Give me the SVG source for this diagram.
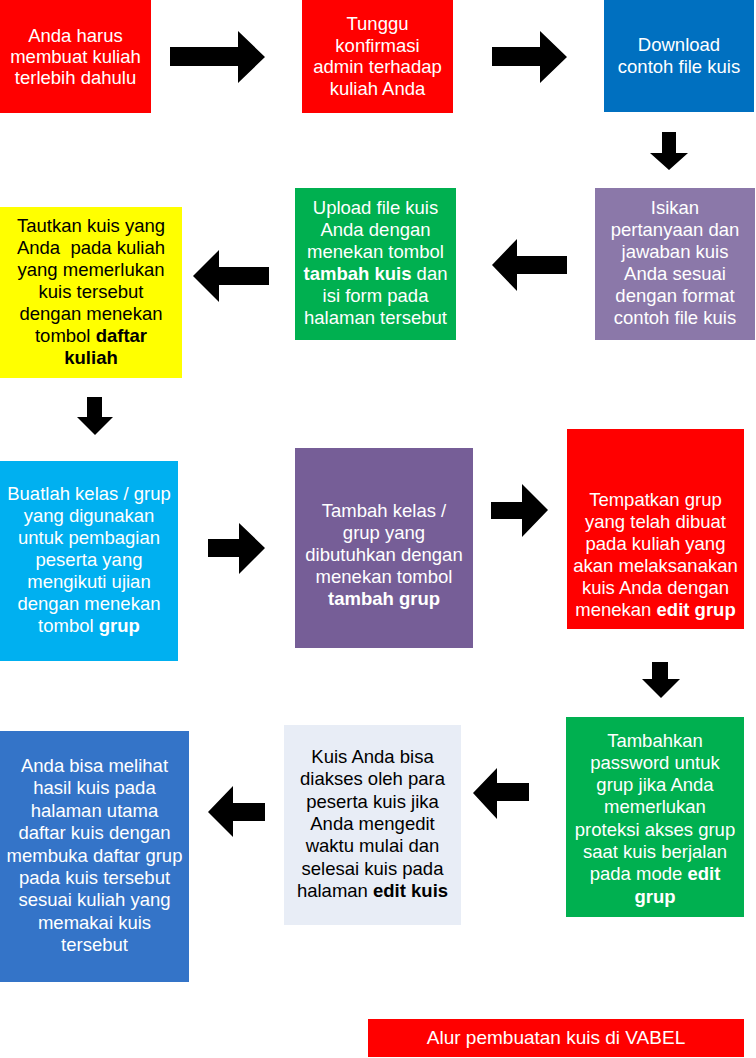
<svg xmlns="http://www.w3.org/2000/svg" width="756" height="1058" viewBox="0 0 756 1058">
<style>
  text { font-family: "Liberation Sans", Arial, sans-serif; font-size: 18.5px; text-anchor: middle; white-space: pre; }
  .w { fill: #ffffff; }
  .k { fill: #000000; }
  .b { font-weight: bold; }
  .arrow { fill: #000000; }
</style>
<rect x="0" y="0" width="756" height="1058" fill="#ffffff"/>

<g id="n1">
  <rect x="0" y="0" width="151" height="113" fill="#ff0000"/>
  <text class="w"><tspan x="75.5" y="41.5">Anda harus</tspan><tspan x="75.5" y="62.5">membuat kuliah</tspan><tspan x="75.5" y="83.5">terlebih dahulu</tspan></text>
</g>
<g id="n2">
  <rect x="302" y="0" width="151" height="113" fill="#ff0000"/>
  <text class="w"><tspan x="377.5" y="30">Tunggu</tspan><tspan x="377.5" y="52">konfirmasi</tspan><tspan x="377.5" y="73">admin terhadap</tspan><tspan x="377.5" y="95">kuliah Anda</tspan></text>
</g>
<g id="n3">
  <rect x="604" y="0" width="150" height="112" fill="#0070c0"/>
  <text class="w"><tspan x="679" y="51">Download</tspan><tspan x="679" y="73">contoh file kuis</tspan></text>
</g>
<g id="n4">
  <rect x="595" y="188" width="160" height="152" fill="#8b78a9"/>
  <text class="w"><tspan x="675" y="214">Isikan</tspan><tspan x="675" y="236">pertanyaan dan</tspan><tspan x="675" y="258">jawaban kuis</tspan><tspan x="675" y="280">Anda sesuai</tspan><tspan x="675" y="302">dengan format</tspan><tspan x="675" y="324">contoh file kuis</tspan></text>
</g>
<g id="n5">
  <rect x="295" y="188" width="161" height="152" fill="#00b050"/>
  <text class="w"><tspan x="375.5" y="214">Upload file kuis</tspan><tspan x="375.5" y="236">Anda dengan</tspan><tspan x="375.5" y="258">menekan tombol</tspan><tspan x="375.5" y="280"><tspan class="b">tambah kuis</tspan> dan</tspan><tspan x="375.5" y="302">isi form pada</tspan><tspan x="375.5" y="324">halaman tersebut</tspan></text>
</g>
<g id="n6">
  <rect x="0" y="207" width="182" height="171" fill="#ffff00"/>
  <text class="k"><tspan x="91" y="232">Tautkan kuis yang</tspan><tspan x="91" y="254">Anda  pada kuliah</tspan><tspan x="91" y="276">yang memerlukan</tspan><tspan x="91" y="298">kuis tersebut</tspan><tspan x="91" y="320">dengan menekan</tspan><tspan x="91" y="342">tombol <tspan class="b">daftar</tspan></tspan><tspan x="91" y="364" class="b">kuliah</tspan></text>
</g>
<g id="n7">
  <rect x="0" y="461" width="178" height="200" fill="#00b0f0"/>
  <text class="w"><tspan x="89" y="500">Buatlah kelas / grup</tspan><tspan x="89" y="522">yang digunakan</tspan><tspan x="89" y="544">untuk pembagian</tspan><tspan x="89" y="566">peserta yang</tspan><tspan x="89" y="588">mengikuti ujian</tspan><tspan x="89" y="610">dengan menekan</tspan><tspan x="89" y="632">tombol <tspan class="b">grup</tspan></tspan></text>
</g>
<g id="n8">
  <rect x="295" y="448" width="178" height="200" fill="#765e97"/>
  <text class="w"><tspan x="384" y="517">Tambah kelas /</tspan><tspan x="384" y="539">grup yang</tspan><tspan x="384" y="561">dibutuhkan dengan</tspan><tspan x="384" y="583">menekan tombol</tspan><tspan x="384" y="605" class="b">tambah grup</tspan></text>
</g>
<g id="n9">
  <rect x="567" y="429" width="177" height="200" fill="#ff0000"/>
  <text class="w"><tspan x="655.5" y="506">Tempatkan grup</tspan><tspan x="655.5" y="528">yang telah dibuat</tspan><tspan x="655.5" y="550">pada kuliah yang</tspan><tspan x="655.5" y="572">akan melaksanakan</tspan><tspan x="655.5" y="594">kuis Anda dengan</tspan><tspan x="655.5" y="616">menekan <tspan class="b">edit grup</tspan></tspan></text>
</g>
<g id="n10">
  <rect x="566" y="717" width="178" height="200" fill="#00b050"/>
  <text class="w"><tspan x="655" y="747">Tambahkan</tspan><tspan x="655" y="769">password untuk</tspan><tspan x="655" y="791">grup jika Anda</tspan><tspan x="655" y="813">memerlukan</tspan><tspan x="655" y="836">proteksi akses grup</tspan><tspan x="655" y="858">saat kuis berjalan</tspan><tspan x="655" y="880">pada mode <tspan class="b">edit</tspan></tspan><tspan x="655" y="903" class="b">grup</tspan></text>
</g>
<g id="n11">
  <rect x="284" y="725" width="177" height="200" fill="#e8edf6"/>
  <text class="k"><tspan x="372.5" y="763">Kuis Anda bisa</tspan><tspan x="372.5" y="785">diakses oleh para</tspan><tspan x="372.5" y="808">peserta kuis jika</tspan><tspan x="372.5" y="830">Anda mengedit</tspan><tspan x="372.5" y="852">waktu mulai dan</tspan><tspan x="372.5" y="875">selesai kuis pada</tspan><tspan x="372.5" y="897">halaman <tspan class="b">edit kuis</tspan></tspan></text>
</g>
<g id="n12">
  <rect x="0" y="731" width="189" height="251" fill="#3474c8"/>
  <text class="w"><tspan x="94.5" y="772">Anda bisa melihat</tspan><tspan x="94.5" y="794">hasil kuis pada</tspan><tspan x="94.5" y="817">halaman utama</tspan><tspan x="94.5" y="839">daftar kuis dengan</tspan><tspan x="94.5" y="862">membuka daftar grup</tspan><tspan x="94.5" y="884">pada kuis tersebut</tspan><tspan x="94.5" y="906">sesuai kuliah yang</tspan><tspan x="94.5" y="929">memakai kuis</tspan><tspan x="94.5" y="951">tersebut</tspan></text>
</g>
<g id="title">
  <rect x="368" y="1019" width="376" height="38" fill="#ff0000"/>
  <text class="w" x="556" y="1044" style="font-size:19px">Alur pembuatan kuis di VABEL</text>
</g>

<g id="connectors">
  <polygon class="arrow" points="170,47 238,47 238,31 265,57 238,83 238,66 170,66"/>
  <polygon class="arrow" points="492,47 540,47 540,31 567,57 540,83 540,66 492,66"/>
  <polygon class="arrow" points="662,132 676,132 676,153 688,153 669,170 650,153 662,153"/>
  <polygon class="arrow" points="492,265 517,239 517,256 567,256 567,274 517,274 517,291"/>
  <polygon class="arrow" points="193,276 219,250 219,267 269,267 269,285 219,285 219,302"/>
  <polygon class="arrow" points="87,397 102,397 102,417 113,417 95,435 77,417 87,417"/>
  <polygon class="arrow" points="208,539 239,539 239,523 265,548 239,574 239,557 208,557"/>
  <polygon class="arrow" points="491,502 522,502 522,484 548,510 522,537 522,519 491,519"/>
  <polygon class="arrow" points="652,662 668,662 668,679 680,679 661,698 642,679 652,679"/>
  <polygon class="arrow" points="473,793 497,768 497,783 529,783 529,801 497,801 497,819"/>
  <polygon class="arrow" points="208,812 233,786 233,803 265,803 265,821 233,821 233,837"/>
</g>
</svg>
